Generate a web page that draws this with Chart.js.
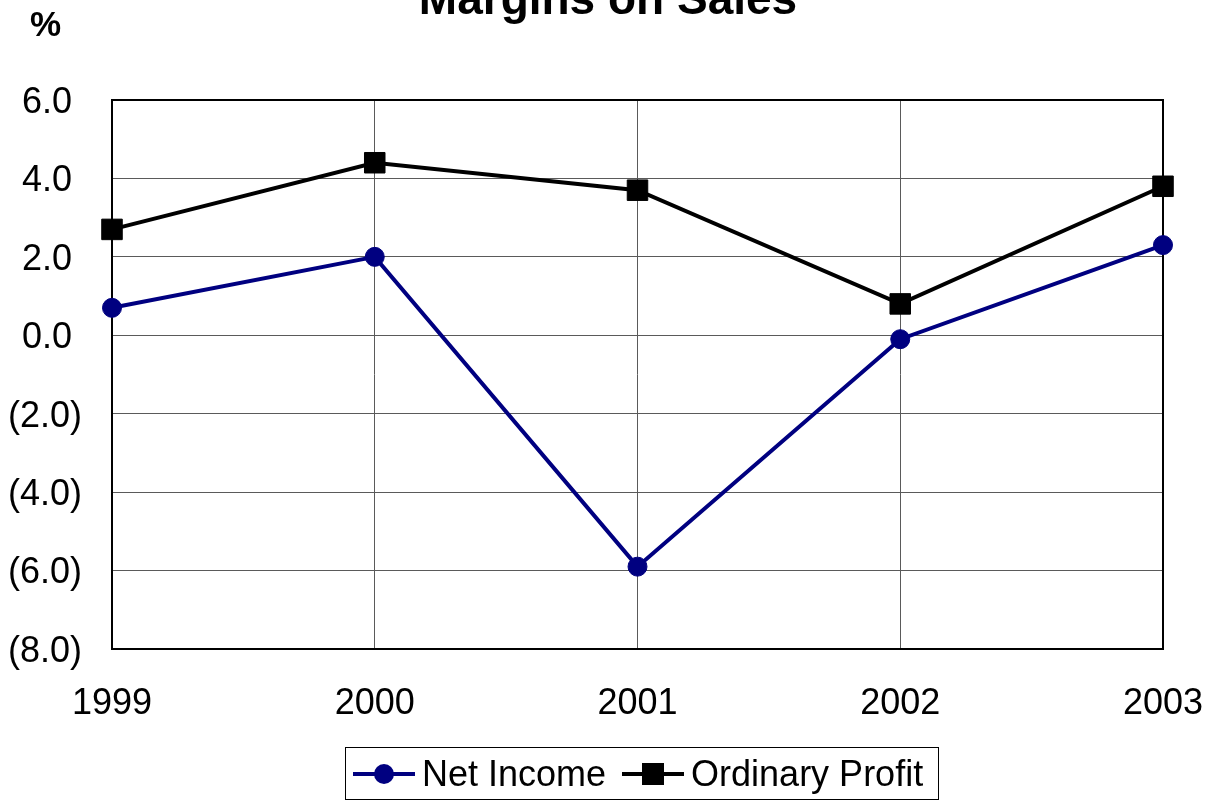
<!DOCTYPE html>
<html>
<head>
<meta charset="utf-8">
<script src="https://cdn.jsdelivr.net/npm/chart.js@4/dist/chart.umd.min.js"></script>
<style>
  html, body { margin: 0; padding: 0; background: #fff; }
  #wrap { position: relative; width: 1216px; height: 801px; overflow: hidden; font-family: "Liberation Sans", Arial, sans-serif; }
  #title { position: absolute; left: 0; width: 1216px; top: -30px; text-align: center; font-weight: bold; font-size: 46px; line-height: 56px; color: #000; }
  #unit { position: absolute; left: 30px; top: 4px; font-weight: bold; font-size: 35px; line-height: 40px; color: #000; }
  #legend { position: absolute; left: 345px; top: 747px; width: 592px; height: 51px; border: 1.5px solid #000; display: flex; align-items: center; box-sizing: content-box; }
  .item { display: flex; align-items: center; font-size: 36px; color: #000; }
  .item svg { margin-left: 7px; margin-right: 7px; }
  .item + .item svg { margin-left: 16px; }
</style>
</head>
<body>
<div id="wrap">
  <canvas id="c" width="1216" height="801"></canvas>
  <div id="title">Margins on Sales</div>
  <div id="unit">%</div>
  <div id="legend"></div>
</div>
<script>
const years = ['1999', '2000', '2001', '2002', '2003'];
const netIncome = [0.7, 2.0, -5.9, -0.1, 2.3];
const ordinaryProfit = [2.7, 4.4, 3.7, 0.8, 3.8];
const seriesNames = ['Net Income', 'Ordinary Profit'];
const yTickMin = -8, yTickMax = 6, yTickStep = 2;

const FONT = '"Liberation Sans", Arial, sans-serif';

const frame = {
  id: 'frame',
  beforeDatasetsDraw(chart) {
    const a = chart.chartArea, ctx = chart.ctx;
    ctx.save();
    ctx.strokeStyle = '#000';
    ctx.lineWidth = 2;
    ctx.strokeRect(a.left, a.top, a.right - a.left, a.bottom - a.top);
    ctx.restore();
  }
};

const datasets = [
  {
    label: seriesNames[0], data: netIncome,
    borderColor: '#000080', backgroundColor: '#000080',
    borderWidth: 4, pointStyle: 'circle', pointRadius: 9.5,
    pointBorderWidth: 1, pointBorderColor: '#000080', pointBackgroundColor: '#000080',
    tension: 0, clip: false
  },
  {
    label: seriesNames[1], data: ordinaryProfit,
    borderColor: '#000000', backgroundColor: '#000000',
    borderWidth: 4, pointStyle: 'rect', pointRadius: 14.5,
    pointBorderWidth: 1, pointBorderColor: '#000', pointBackgroundColor: '#000',
    tension: 0, clip: false
  }
];

const chart = new Chart(document.getElementById('c'), {
  type: 'line',
  data: { labels: years, datasets: datasets },
  options: {
    responsive: false,
    devicePixelRatio: 1,
    animation: false,
    layout: { padding: { left: 0, top: 100, right: 53, bottom: 0 } },
    plugins: { legend: { display: false }, title: { display: false }, tooltip: { enabled: false } },
    scales: {
      x: {
        type: 'category',
        offset: false,
        grid: { color: '#5a5a5a', lineWidth: 1, drawTicks: false },
        border: { display: false },
        ticks: { color: '#000', padding: 33, font: { family: FONT, size: 36 }, maxRotation: 0, autoSkip: false },
        afterFit(s) { s.height = 152; s.paddingLeft = 0; s.paddingRight = 0; }
      },
      y: {
        min: yTickMin, max: yTickMax,
        grid: { color: '#5a5a5a', lineWidth: 1, drawTicks: false },
        border: { display: false },
        ticks: {
          stepSize: yTickStep, color: '#000', padding: 30, labelOffset: 3,
          font: { family: FONT, size: 36 },
          callback(v) { const s = Math.abs(v).toFixed(1); return v < 0 ? '(' + s + ')' : s + ' '; }
        },
        afterFit(s) { s.width = 112; s.paddingTop = 0; s.paddingBottom = 0; }
      }
    }
  },
  plugins: [frame]
});

// HTML legend built from the datasets
const leg = document.getElementById('legend');
datasets.forEach(ds => {
  const item = document.createElement('div');
  item.className = 'item';
  const c = ds.borderColor;
  const marker = ds.pointStyle === 'circle'
    ? `<circle cx="31" cy="15" r="10" fill="${c}"/>`
    : `<rect x="20" y="4" width="22" height="22" fill="${c}"/>`;
  item.innerHTML = `<svg width="62" height="30" viewBox="0 0 62 30"><line x1="0" y1="15" x2="62" y2="15" stroke="${c}" stroke-width="4"/>${marker}</svg><span>${ds.label}</span>`;
  leg.appendChild(item);
});
</script>
</body>
</html>
